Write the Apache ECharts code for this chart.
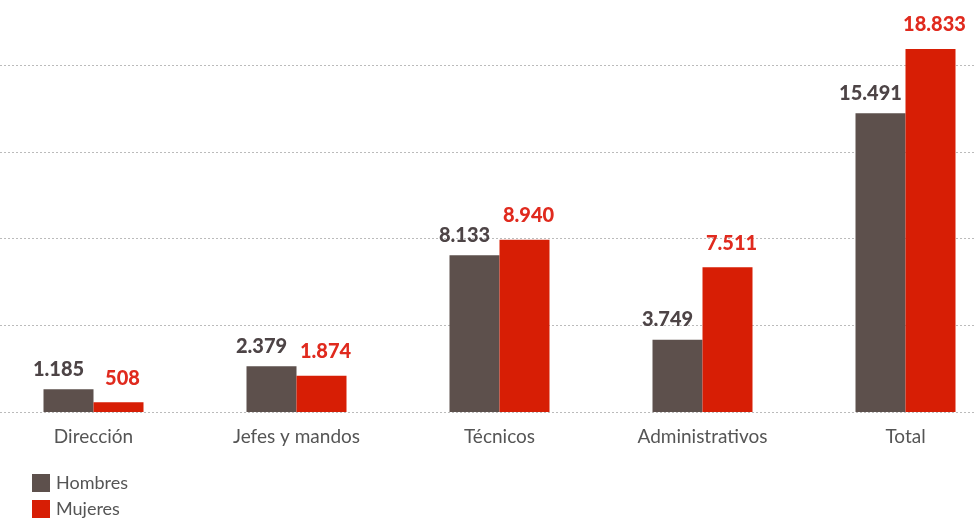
<!DOCTYPE html>
<html>
<head>
<meta charset="utf-8">
<script src="https://cdn.jsdelivr.net/npm/echarts@6/dist/echarts.min.js"></script>
<style>html,body{margin:0;padding:0;background:#fff;}#c{width:975px;height:519px;}</style>
</head>
<body>
<div id="c"></div>
<script>
const categories = ['Dirección', 'Jefes y mandos', 'Técnicos', 'Administrativos', 'Total'];
const hombres = [1185, 2379, 8133, 3749, 15491];
const mujeres = [508, 1874, 8940, 7511, 18833];
const seriesNames = ['Hombres', 'Mujeres'];

const fmt = v => String(v).replace(/\B(?=(\d{3})+(?!\d))/g, '.');
const FONT = 'Lato, "Open Sans", sans-serif';
const chart = echarts.init(document.getElementById('c'), null, {renderer: 'canvas'});
chart.setOption({
  animation: false,
  backgroundColor: '#fff',
  grid: {left: -8, right: -32, top: 65, bottom: 107, containLabel: false, outerBoundsMode: 'none'},
  legend: {
    orient: 'vertical', left: 32, top: 474, padding: 0,
    itemWidth: 18, itemHeight: 18, itemGap: 8,
    icon: 'rect',
    textStyle: {fontFamily: FONT, fontSize: 18, color: '#555', padding: [0, 0, 0, 1]},
    data: seriesNames
  },
  xAxis: {
    type: 'category', data: categories,
    axisLine: {show: false}, axisTick: {show: false},
    axisLabel: {fontFamily: FONT, fontSize: 19, color: '#555', margin: 15}
  },
  yAxis: {
    type: 'value', min: 0, max: 18000, interval: 4500,
    axisLabel: {show: false}, axisLine: {show: false}, axisTick: {show: false},
    splitLine: {lineStyle: {type: [2, 2], color: '#bbb', width: 1}}
  },
  series: [
    {
      name: seriesNames[0], type: 'bar', data: hombres, barWidth: 50, barGap: '0%', clip: false,
      itemStyle: {color: '#5d504c'},
      label: {show: true, position: 'top', distance: 10, offset: [-10, 0],
        fontFamily: FONT, fontWeight: 900, fontSize: 20, color: '#4d4446',
        formatter: p => fmt(p.value)}
    },
    {
      name: seriesNames[1], type: 'bar', data: mujeres, barWidth: 50, clip: false,
      itemStyle: {color: '#d71e05'},
      label: {show: true, position: 'top', distance: 14, offset: [4, 0],
        fontFamily: FONT, fontWeight: 900, fontSize: 20, color: '#e02a1e',
        formatter: p => fmt(p.value)}
    }
  ]
});
</script>
</body>
</html>
